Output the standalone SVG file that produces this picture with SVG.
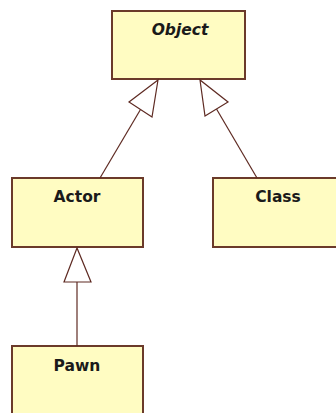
<svg xmlns="http://www.w3.org/2000/svg" width="336" height="413" viewBox="0 0 336 413">
  <style>
    .box { fill: #FFFCC2; stroke: #6B3A2A; stroke-width: 2; }
    .name { font-family: "DejaVu Sans", Verdana, sans-serif; font-weight: bold; font-size: 15.5px; fill: #1a1a1a; text-anchor: middle; }
    .abstract { font-style: italic; }
    .edge { stroke: #5E2A22; stroke-width: 1.2; fill: none; }
    .head { stroke: #5E2A22; stroke-width: 1.2; fill: #ffffff; stroke-linejoin: miter; }
  </style>
  <rect width="336" height="413" fill="#ffffff"/>

  <!-- class boxes -->
  <g id="object">
    <rect class="box" x="112" y="11" width="133" height="68"/>
    <text class="name abstract" x="180" y="34.5">Object</text>
  </g>
  <g id="actor">
    <rect class="box" x="12" y="178" width="131" height="69"/>
    <text class="name" x="77" y="202">Actor</text>
  </g>
  <g id="class">
    <rect class="box" x="213" y="178" width="131" height="69"/>
    <text class="name" x="278" y="202">Class</text>
  </g>
  <g id="pawn">
    <rect class="box" x="12" y="346" width="131" height="80"/>
    <text class="name" x="77" y="371">Pawn</text>
  </g>

  <!-- generalization connectors with hollow triangle heads -->
  <g id="connectors">
    <line class="edge" x1="100" y1="178" x2="140.5" y2="109.5"/>
    <polygon class="head" points="158,80 129,102 152,117"/>
    <line class="edge" x1="257" y1="178" x2="216.5" y2="109"/>
    <polygon class="head" points="200,80 205,116 228,102"/>
    <line class="edge" x1="77" y1="346" x2="77" y2="282"/>
    <polygon class="head" points="77,248 64,282 91,282"/>
  </g>
</svg>
